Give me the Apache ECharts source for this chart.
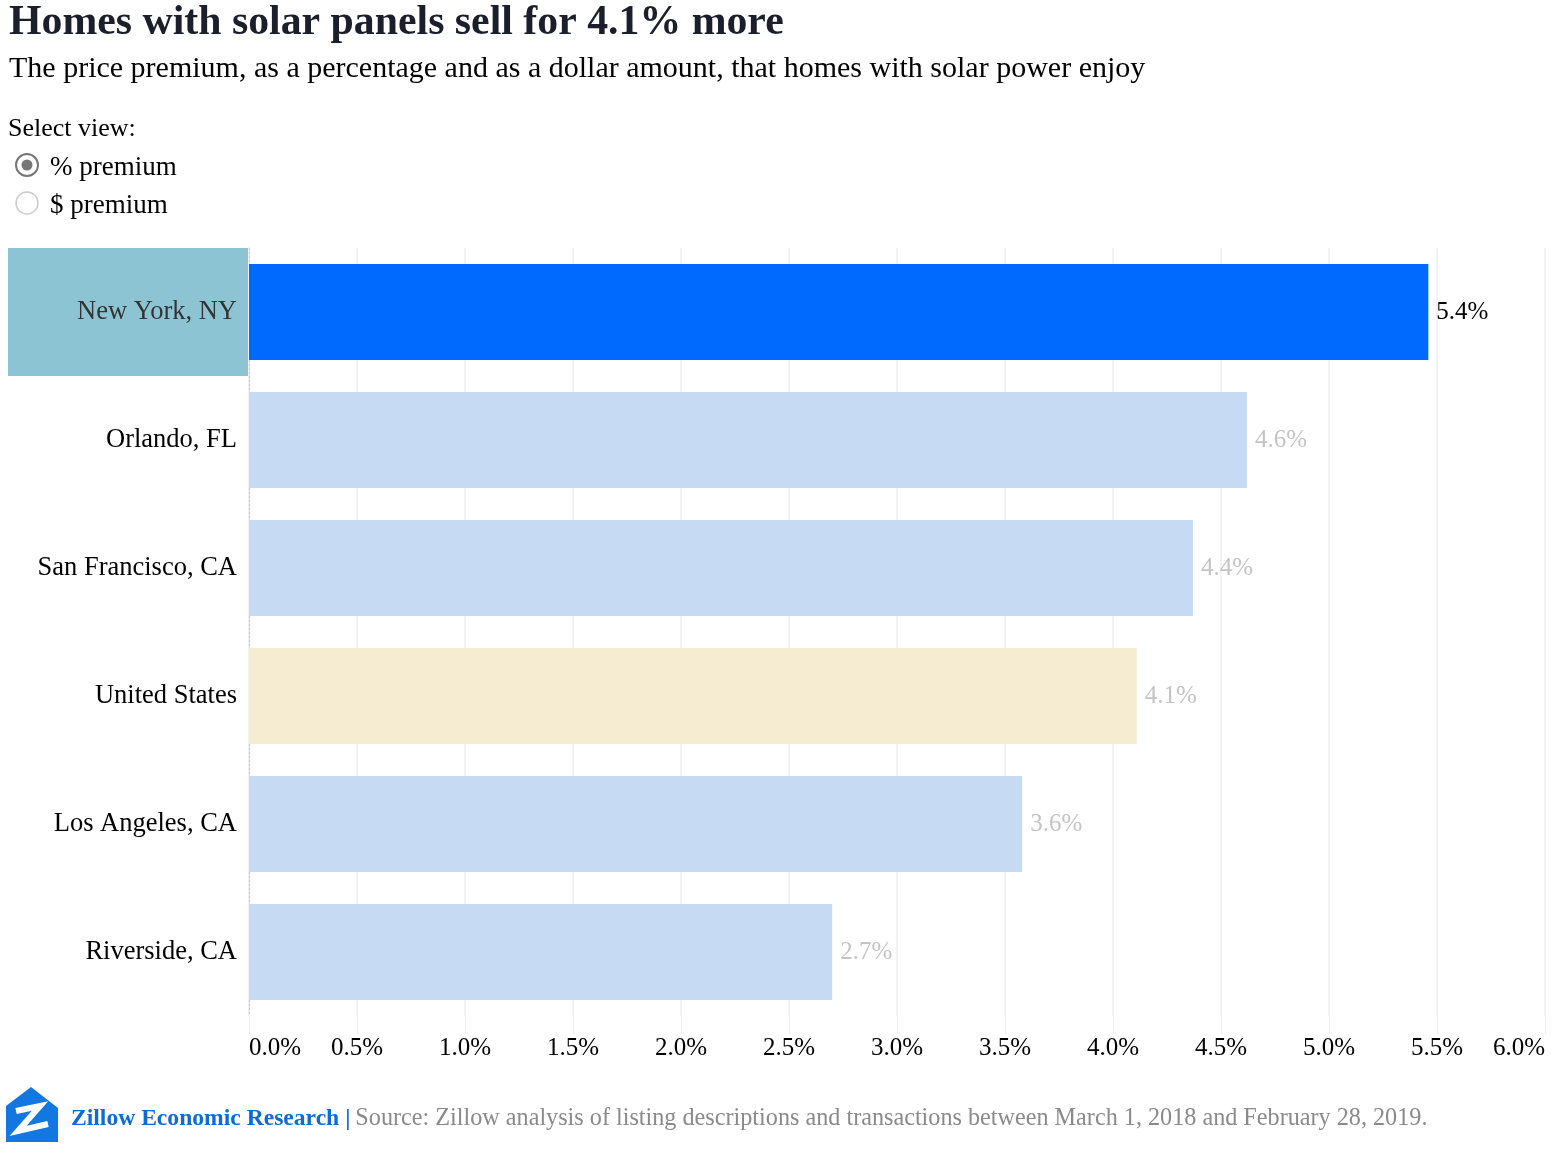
<!DOCTYPE html>
<html><head><meta charset="utf-8">
<script src="https://cdn.jsdelivr.net/npm/echarts@6/dist/echarts.min.js"></script>
<style>html,body{margin:0;padding:0;background:#fff}#c{width:1562px;height:1158px}</style>
</head><body><div id="c"></div>
<script>
const categories = ["New York, NY","Orlando, FL","San Francisco, CA","United States","Los Angeles, CA","Riverside, CA"];
const premiumPct = [5.46, 4.62, 4.37, 4.11, 3.58, 2.70];
const valueLabels = ["5.4%","4.6%","4.4%","4.1%","3.6%","2.7%"];
const barColors = ["#006aff","#c6daf4","#c6daf4","#f5ecd2","#c6daf4","#c6daf4"];
const tickMin = 0, tickMax = 6, tickStep = 0.5;

const serif = '"Liberation Serif","Times New Roman",serif';
const chart = echarts.init(document.getElementById('c'), null, {renderer:'canvas'});
chart.setOption({
  animation:false,
  backgroundColor:'#fff',
  title:[
    {text:'Homes with solar panels sell for 4.1% more', left:4, top:-3,
     textStyle:{fontFamily:serif, fontSize:41.8, fontWeight:'bold', color:'#1b1f2c'}},
    {text:'The price premium, as a percentage and as a dollar amount, that homes with solar power enjoy', left:4, top:49,
     textStyle:{fontFamily:serif, fontSize:30, fontWeight:'normal', color:'#000'}},
    {text:'Select view:', left:3, top:111, textStyle:{fontFamily:serif, fontSize:26, fontWeight:'normal', color:'#000'}},
    {text:'% premium', left:45, top:149, textStyle:{fontFamily:serif, fontSize:27, fontWeight:'normal', color:'#000'}},
    {text:'$ premium', left:45, top:187, textStyle:{fontFamily:serif, fontSize:27, fontWeight:'normal', color:'#000'}},
    {text:'{b|Zillow Economic Research |} {g|Source: Zillow analysis of listing descriptions and transactions between March 1, 2018 and February 28, 2019.}',
     left:66, top:1102,
     textStyle:{fontWeight:'normal', rich:{
       b:{fontFamily:serif, fontSize:23.6, fontWeight:'bold', color:'#0a6bd9'},
       g:{fontFamily:serif, fontSize:24.2, fontWeight:'normal', color:'#8a8a8a'}}}}
  ],
  graphic:[
    {type:'circle', shape:{cx:27, cy:165, r:11}, style:{fill:'#fff', stroke:'#777', lineWidth:2}},
    {type:'circle', shape:{cx:27, cy:165, r:5.5}, style:{fill:'#777'}},
    {type:'circle', shape:{cx:27, cy:203, r:11}, style:{fill:'#fff', stroke:'#ccc', lineWidth:1.5}},
    {type:'polygon', shape:{points:[[6,1106],[31,1087],[58,1108],[58,1142],[6,1142]]}, style:{fill:'#1277e1'}},
    {type:'polyline', shape:{points:[[16,1111],[40,1106],[18,1131],[48,1124]]}, style:{stroke:'#fff', lineWidth:6, fill:null}}
  ],
  grid:{left:249, right:17, top:248, bottom:142, containLabel:false},
  xAxis:{
    type:'value', min:tickMin, max:tickMax, interval:tickStep,
    axisLine:{show:false},
    axisTick:{show:true, length:18, lineStyle:{color:'#eeeeee'}},
    splitLine:{show:true, lineStyle:{color:'#eeeeee', width:1.5}},
    axisLabel:{margin:20, fontFamily:serif, fontSize:25, color:'#000',
      alignMinLabel:'left', alignMaxLabel:'right',
      formatter:v=>v.toFixed(1)+'%'}
  },
  yAxis:{
    type:'category', data:categories, inverse:true,
    axisLine:{show:true, lineStyle:{color:'#c8c8c8', type:[2,2], width:1}},
    axisTick:{show:false},
    axisLabel:{margin:1, fontFamily:serif, fontSize:26.5, color:'#000',
      formatter:(v,i)=> i===0 ? '{hl|'+v+'}' : '{n|'+v+'}',
      rich:{
        hl:{fontFamily:serif, fontSize:26.5, color:'#333', backgroundColor:'#8dc4d4', width:229, height:128, align:'right', padding:[0,11,0,0]},
        n:{fontFamily:serif, fontSize:26.5, color:'#000', padding:[0,11,0,0]}
      }}
  },
  series:[{
    type:'bar', barCategoryGap:'25%',
    data: premiumPct.map((v,i)=>({value:v, itemStyle:{color:barColors[i]},
      label:{color: i===0 ? '#000' : '#c4c4c4'}})),
    label:{show:true, position:'right', distance:8, fontFamily:serif, fontSize:25,
      formatter:p=>valueLabels[p.dataIndex]}
  }]
});
</script></body></html>
